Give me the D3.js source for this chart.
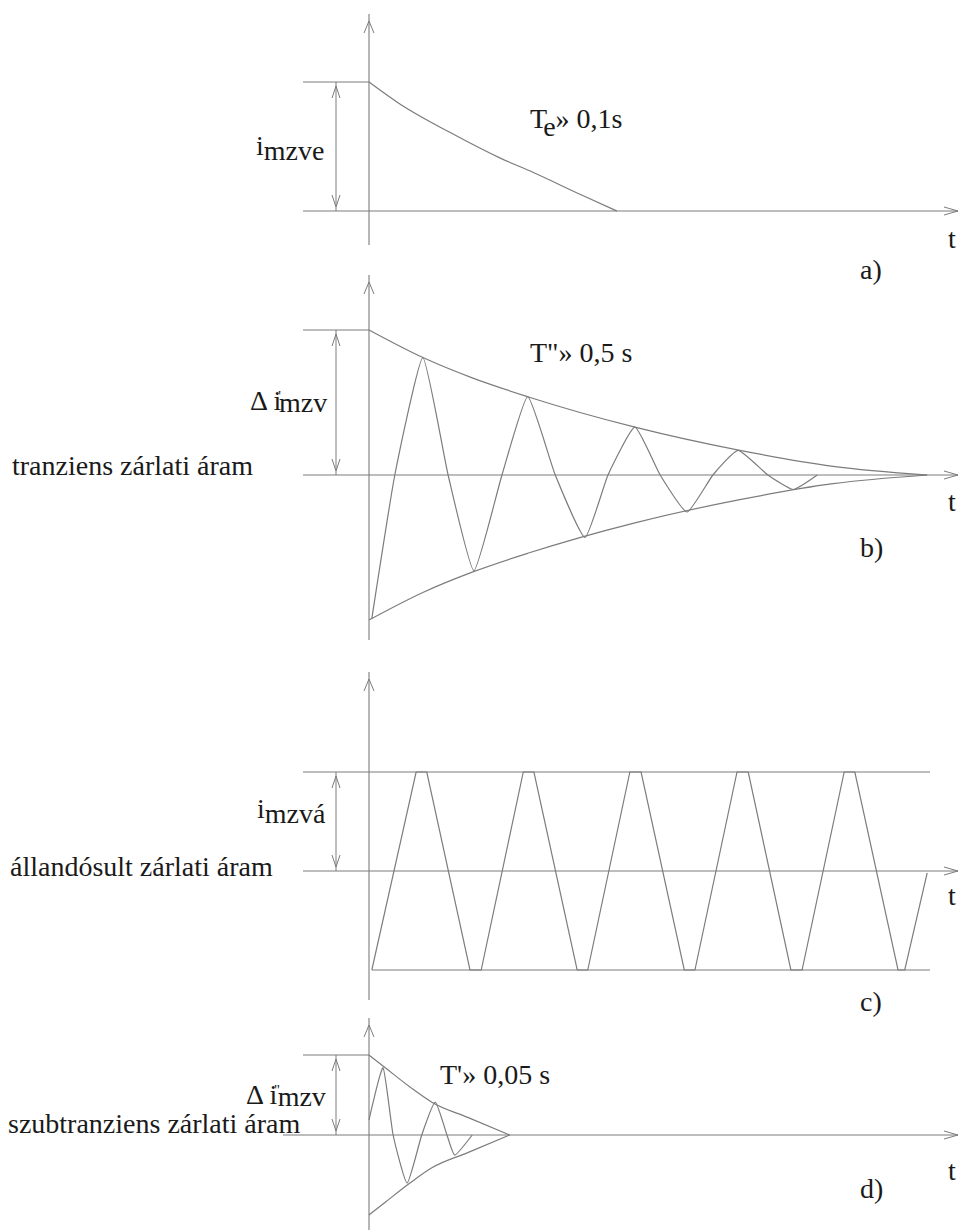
<!DOCTYPE html>
<html>
<head>
<meta charset="utf-8">
<script src="https://cdn.jsdelivr.net/npm/d3@7"></script>
<style>
  html, body { margin: 0; background: #fff; }
</style>
</head>
<body>
<svg id="chart" width="959" height="1230"></svg>
<script>
// ---------- data ----------
// a) excitation-current component decaying to zero (relative to its initial value)
const aTime  = [0, 5.5, 14.4, 23.4, 29.2, 38.1, 44.2];
const aValue = [1, 0.83, 0.61, 0.41, 0.30, 0.12, 0];

// b) transient short-circuit current: envelope and oscillation
const bEnvTime   = [0, 9.6, 18.4, 28.3, 47.4, 66.1, 82.7, 99.5];
const bEnvValue  = [1, 0.81, 0.67, 0.54, 0.33, 0.17, 0.06, 0];
const bWaveTime  = [0.5, 4.6, 9.6, 14.1, 18.7, 23.7, 28.3, 33.2, 38.5, 42.6, 47.4, 51.9, 56.7, 61.3, 65.8, 71.1, 75.6, 79.9];
const bWaveValue = [-0.99, 0, 0.81, 0, -0.66, 0, 0.54, 0, -0.43, 0, 0.33, 0, -0.255, 0, 0.17, 0, -0.10, 0];

// c) steady-state short-circuit current (constant amplitude)
const cWaveTime  = [0.5, 8.4, 10.3, 18.0, 20.0, 27.5, 29.4, 37.1, 39.0, 46.5, 48.5, 56.2, 58.1, 65.6, 67.6, 75.2, 77.2, 84.7, 86.6, 94.3, 95.5, 99.5];
const cWaveValue = [-1, 1, 1, -1, -1, 1, 1, -1, -1, 1, 1, -1, -1, 1, 1, -1, -1, 1, 1, -1, -1, -0.02];

// d) subtransient short-circuit current: envelope and oscillation
const dEnvTime   = [0, 2.9, 7.3, 11.2, 17.6, 25.1];
const dEnvValue  = [1, 0.84, 0.60, 0.41, 0.22, 0];
const dWaveTime  = [0, 2.5, 4.3, 6.8, 9.4, 11.8, 13.9, 15.3, 18.4];
const dWaveValue = [0.19, 0.84, 0, -0.60, 0, 0.41, 0, -0.25, 0];

// labels
const panelTags   = ["a)", "b)", "c)", "d)"];
const sideTitles  = ["", "tranziens zárlati áram", "állandósult zárlati áram", "szubtranziens zárlati áram"];
const axisName    = "t";

// ---------- drawing ----------
const FONT = "Liberation Serif, DejaVu Serif, Times New Roman, serif";
const svg = d3.select("#chart");
const stroke = "#7c7c7c";
const ink = "#1a1a1a";
const x = d3.scaleLinear().domain([0, 100]).range([369, 930]);

const zip = (ts, vs) => ts.map((t, i) => [t, vs[i]]);

function seg(g, x1, y1, x2, y2, w = 1.1) {
  g.append("line").attr("x1", x1).attr("y1", y1).attr("x2", x2).attr("y2", y2)
    .attr("stroke", stroke).attr("stroke-width", w);
}
function headUp(g, cx, tip, len = 12, half = 4) {
  g.append("path").attr("d", `M${cx - half},${tip + len}L${cx},${tip}L${cx + half},${tip + len}`)
    .attr("fill", "none").attr("stroke", stroke).attr("stroke-width", 1);
}
function headDown(g, cx, tip, len = 12, half = 4) {
  g.append("path").attr("d", `M${cx - half},${tip - len}L${cx},${tip}L${cx + half},${tip - len}`)
    .attr("fill", "none").attr("stroke", stroke).attr("stroke-width", 1);
}
function headRight(g, tip, cy, len = 14, half = 4) {
  g.append("path").attr("d", `M${tip - len},${cy - half}L${tip},${cy}L${tip - len},${cy + half}`)
    .attr("fill", "none").attr("stroke", stroke).attr("stroke-width", 1);
}
function curve(g, pts, y, factory) {
  g.append("path").datum(pts)
    .attr("d", d3.line().x(d => x(d[0])).y(d => y(d[1])).curve(factory))
    .attr("fill", "none").attr("stroke", stroke).attr("stroke-width", 1.2);
}
function label(g, px, py, str, size = 28) {
  return g.append("text").attr("x", px).attr("y", py)
    .attr("font-family", FONT).attr("font-size", size).attr("fill", ink).text(str);
}
// text built from runs: [string, dx, dy, size]
function rich(g, px, py, runs) {
  const t = g.append("text").attr("x", px).attr("y", py)
    .attr("font-family", FONT).attr("font-size", 28).attr("fill", ink);
  runs.forEach(([s, dx, dy, size]) => {
    t.append("tspan").text(s).attr("dx", dx || 0).attr("dy", dy || 0).attr("font-size", size || 28);
  });
  return t;
}

// Common frame: vertical axis, time axis with arrow, peak marker line, dimension arrow, tags
function frame(p) {
  const g = svg.append("g");
  const x0 = x(0);
  seg(g, x0, p.axisTop, x0, p.axisBottom);
  headUp(g, x0, p.axisTop + 7, 12, 5);
  const yb = p.y(0), yt = p.y(1);
  seg(g, p.baseStart || 303, yb, 958, yb);
  headRight(g, 958, yb);
  seg(g, 303, yt, p.topEnd, yt);
  // dimension arrow between the peak level and the zero line
  seg(g, 336, yt, 336, yb, 1);
  headUp(g, 336, yt + 4, 12, 4);
  headDown(g, 336, yb - 4, 12, 4);
  label(g, 948, p.tY, axisName);
  label(g, 860, p.tagY, panelTags[p.idx]);
  if (sideTitles[p.idx]) label(g, p.titleX, p.titleY, sideTitles[p.idx]);
  return g;
}

// a)
{
  const y = d3.scaleLinear().domain([0, 1]).range([211, 82]);
  const g = frame({ idx: 0, y, axisTop: 14, axisBottom: 245, topEnd: 369, tY: 248, tagY: 279 });
  curve(g, zip(aTime, aValue), y, d3.curveMonotoneX);
  rich(g, 256, 160, [["i", 0, -5], ["mzve", 0, 5]]);
  rich(g, 530, 128, [["T"], ["e", -2, 8], ["»", 0, -8], [" 0,1s"]]);
}

// b)
{
  const y = d3.scaleLinear().domain([-1, 1]).range([620, 330]);
  const g = frame({ idx: 1, y, axisTop: 275, axisBottom: 640, topEnd: 369, tY: 511, tagY: 557, titleX: 12, titleY: 475 });
  curve(g, zip(bEnvTime, bEnvValue), y, d3.curveMonotoneX);
  curve(g, zip(bEnvTime, bEnvValue.map(v => -v)), y, d3.curveMonotoneX);
  curve(g, zip(bWaveTime, bWaveValue), y, d3.curveCardinal.tension(0.55));
  rich(g, 250, 410, [["Δ i"], ["'", -3, -9, 15], ["mzv", -2, 11]]);
  rich(g, 530, 362, [["T\"» 0,5 s"]]);
}

// c)
{
  const y = d3.scaleLinear().domain([-1, 1]).range([970, 772]);
  const g = frame({ idx: 2, y, axisTop: 672, axisBottom: 1000, topEnd: 930, tY: 905, tagY: 1011, titleX: 10, titleY: 876 });
  seg(g, 372, y(-1), 930, y(-1));
  curve(g, zip(cWaveTime, cWaveValue), y, d3.curveLinear);
  rich(g, 257, 823, [["i", 0, -5], ["mzvá", 0, 5]]);
}

// d)
{
  const y = d3.scaleLinear().domain([-1, 1]).range([1215, 1055]);
  const g = frame({ idx: 3, y, axisTop: 1018, axisBottom: 1230, topEnd: 369, tY: 1180, tagY: 1198, titleX: 8, titleY: 1133, baseStart: 283 });
  curve(g, zip(dEnvTime, dEnvValue), y, d3.curveMonotoneX);
  curve(g, zip(dEnvTime, dEnvValue.map(v => -v)), y, d3.curveMonotoneX);
  curve(g, zip(dWaveTime, dWaveValue), y, d3.curveCardinal.tension(0.5));
  rich(g, 246, 1104, [["Δ i"], ["''", -3, -9, 15], ["mzv", -2, 11]]);
  rich(g, 440, 1084, [["T'» 0,05 s"]]);
}
</script>
</body>
</html>
